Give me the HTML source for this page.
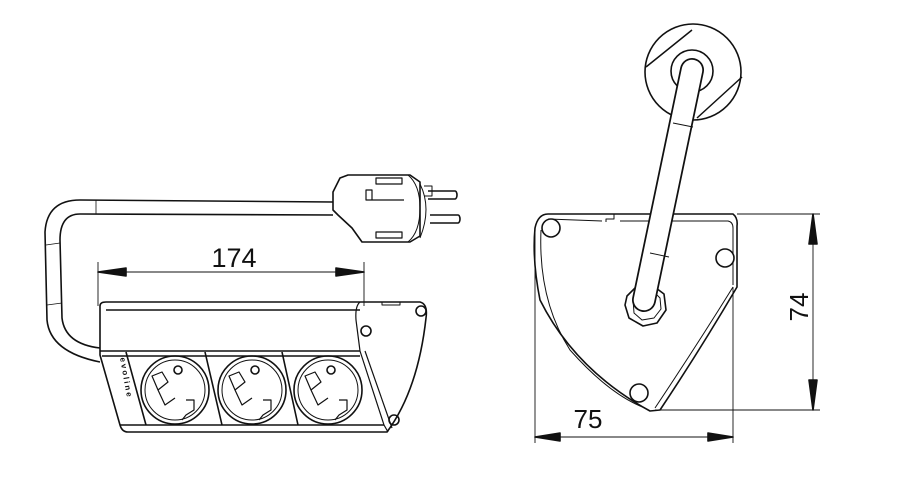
<!DOCTYPE html>
<html><head><style>html,body{margin:0;padding:0;background:#fff;width:900px;height:500px;overflow:hidden}</style></head>
<body>
<svg width="900" height="500" viewBox="0 0 900 500" xmlns="http://www.w3.org/2000/svg" fill="none" stroke="#111" stroke-width="1.6" stroke-linejoin="round">
<!-- LEFT VIEW -->
<path d="M333,202 L80,200 Q47,200 45,232 L47,320 Q50,352 100,362"/>
<path d="M333,215 L80,214 Q60,214 60,240 L62,318 Q65,344 100,348"/>
<path d="M46,245 L60,243 M47,305 L62,303 M96,200 L96,214" stroke-width="0.8"/>
<!-- plug -->
<path d="M333,192 L340,178 L348,175 L410,175 L420,182 L420,236 L410,242 L362,242 L352,228 L338,215 L333,210 Z" fill="#fff"/>
<path d="M408,175 Q420,185 420,208 Q420,232 408,242" stroke-width="1"/>
<path d="M376,178 L402,178 L402,184 L376,184 Z M366,190 L372,190 L372,200 L366,200 Z M372,200 L404,200 M376,232 L402,232 L402,238 L376,238 Z" stroke-width="1.2"/>
<path d="M420,184 Q432,208 420,238 M424,186 L432,186 L432,196 L424,196" stroke-width="1"/>
<path d="M428,191 L455,191 A2,4 0 0 1 455,199 L428,199 M430,215 L458,215 A2,4 0 0 1 458,223 L430,223"/>
<!-- dim 174 -->
<path d="M98,262 L98,306 M364,262 L364,306" stroke-width="0.9"/>
<path d="M98,272 L364,272" stroke-width="0.9"/>
<path d="M98,272 L126,268 L126,276 Z M364,272 L336,268 L336,276 Z" fill="#111"/>
<text x="234" y="267" font-family="Liberation Sans, sans-serif" font-size="27" fill="#111" stroke="none" text-anchor="middle">174</text>
<!-- body -->
<path d="M100,306 Q100,302 106,302 L420,302 Q428,304 426,318 Q418,390 387,432 L128,432 Q122,432 120,425 L100,355 Z"/>
<path d="M100,351 L360,351 M102,356 L360,356 M120,425 L384,425 M106,310 L360,310"/>
<path d="M360,302 Q355,306 356,320 L360,351 L384,425 L388,432 M365,351 L392,428" stroke-width="1.2"/>
<circle cx="366" cy="331" r="5"/>
<circle cx="421" cy="311" r="5"/>
<circle cx="394" cy="420" r="5"/>
<path d="M382,302 L382,305 L400,305 L400,302" stroke-width="1"/>
<path d="M126,352 L146,425 M205,352 L222,425 M282,352 L298,425" stroke-width="1.6"/>
<text x="120" y="358" font-family="Liberation Sans, sans-serif" font-size="8" font-weight="bold" fill="#111" stroke="none" transform="rotate(80 120 358)" letter-spacing="2">evoline</text>
<g id="s">
<circle cx="175" cy="390" r="34"/>
<circle cx="175" cy="390" r="30" stroke-width="1"/>
<circle cx="178" cy="370" r="4"/>
<path d="M152,376 L162,372 L168,382 L158,390 Z M158,390 L165,405 L175,398" stroke-width="1.2"/>
<path d="M186,400 L194,400 L194,410 L186,415 L182,420" stroke-width="1.2"/>
</g>
<use href="#s" x="77"/>
<use href="#s" x="153"/>

<!-- RIGHT VIEW -->
<circle cx="693" cy="72" r="48"/>
<path d="M646,67 L692,30 M742,77 L697,118" stroke-width="1.5"/>
<circle cx="692" cy="71" r="21" fill="#fff"/>
<!-- body -->
<path d="M548,214 L733,214 Q738,218 737,226 L737,287 Q700,350 660,410 L650,411 Q575,370 540,300 Q532,260 535,228 Q538,214 548,214 Z" fill="#fff"/>
<path d="M548,219 L602,221 M620,221 L728,221 Q733,222 733,228 L733,285 M733,287 Q697,345 655,408 M541,230 Q538,300 570,350 Q610,395 645,408" stroke-width="1"/>
<path d="M602,214 L614,214 L614,219 L606,219 L606,222" stroke-width="1"/>
<!-- nut -->
<path d="M627,296 L637,286 L652,285 L664,294 L666,310 L657,323 L643,326 L629,318 L625,305 Z" fill="#fff"/>
<path d="M633,299 L641,291 L652,290 L660,298 L661,309 L654,318 L642,320 L634,313 Z" stroke-width="1"/>
<!-- cable capsule -->
<line x1="692" y1="70" x2="644" y2="300" stroke="#111" stroke-width="24" stroke-linecap="round"/>
<line x1="692" y1="70" x2="644" y2="300" stroke="#fff" stroke-width="20.5" stroke-linecap="round"/>
<path d="M673,123 L693,127 M650,253 L669,257" stroke-width="0.9"/>
<circle cx="551" cy="228" r="9" fill="#fff"/>
<circle cx="725" cy="258" r="9" fill="#fff"/>
<circle cx="639" cy="393" r="9" fill="#fff"/>
<!-- dims -->
<path d="M737,214 L820,214 M655,410 L820,410 M813,214 L813,410" stroke-width="0.9"/>
<path d="M813,214 L809,244 L817,244 Z M813,410 L809,380 L817,380 Z" fill="#111"/>
<text x="808" y="307" font-family="Liberation Sans, sans-serif" font-size="26" fill="#111" stroke="none" text-anchor="middle" transform="rotate(-90 808 307)">74</text>
<path d="M535,228 L535,443 M733,287 L733,443 M535,437 L733,437" stroke-width="0.9"/>
<path d="M535,437 L560,433 L560,441 Z M733,437 L708,433 L708,441 Z" fill="#111"/>
<text x="588" y="428" font-family="Liberation Sans, sans-serif" font-size="26" fill="#111" stroke="none" text-anchor="middle">75</text>
</svg>
</body></html>
